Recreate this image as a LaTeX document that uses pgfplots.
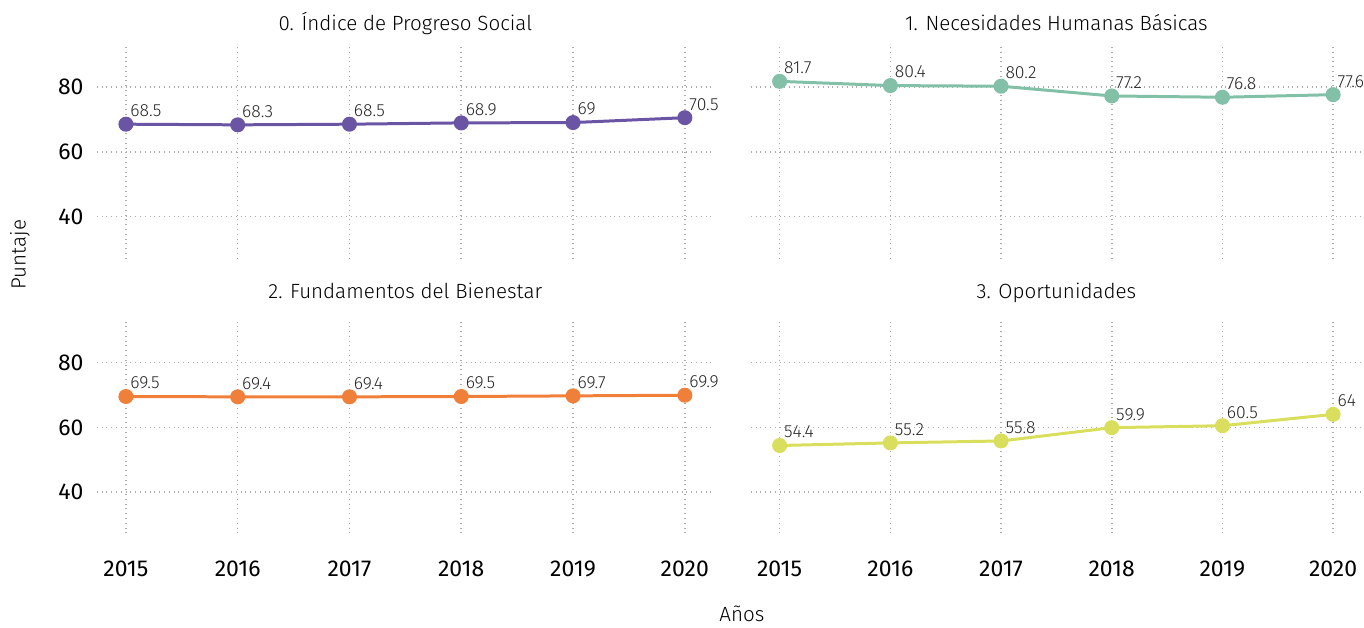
\documentclass[border=0pt]{standalone}
\usepackage{fontspec}
\setmainfont{Fira Sans}
\newfontfamily\lightfont{Fira Sans Light}
\usepackage{pgfplots}
\pgfplotsset{compat=1.18}

\definecolor{cpur}{HTML}{6A55A4}
\definecolor{cgrn}{HTML}{82C0A8}
\definecolor{corg}{HTML}{F07F3A}
\definecolor{cyel}{HTML}{D9DF5C}

\pgfplotsset{
  panel/.style={
    scale only axis,
    width=309pt,
    xmin=2014.74, xmax=2020.26,
    axis line style={draw=none},
    tick style={draw=none},
    xtick={2015,...,2020},
    ytick={40,60,80},
    grid=major,
    grid style={dotted, gray!65, line width=0.8pt},
    /pgf/number format/assume math mode=true,
    xticklabel style={/pgf/number format/1000 sep={}, font=\fontsize{11.5}{11.5}\selectfont, anchor=base, yshift=-21.5pt},
    yticklabel style={font=\fontsize{11.5}{11.5}\selectfont, anchor=east, inner sep=0pt, xshift=-6.5pt},
    every axis title shift=0pt,
    title style={font=\lightfont\fontsize{10.3}{10.3}\selectfont, at={(0.5,1)}, anchor=base},
    nodes near coords,
    every node near coord/.append style={font=\lightfont\fontsize{8.8}{8.8}\selectfont, anchor=base west, inner sep=0pt,
      xshift=1.5pt, yshift=3.8pt, text=black!85,
      /pgf/number format/fixed, /pgf/number format/precision=1},
  },
  toprow/.style={height=106pt, ymin=27.08, ymax=92.31, xticklabels={}, title style={yshift=8pt}},
  botrow/.style={height=106.5pt, ymin=27.38, ymax=92.92, title style={yshift=11pt}},
  ser/.style={line width=1.5pt, color=#1, mark=*, mark size=3pt, mark options={fill=#1, draw=#1}},
}

\begin{document}
\begin{tikzpicture}
\begin{axis}[panel, toprow, at={(48.5pt,-129.5pt)}, title={0. Índice de Progreso Social}]
\addplot[ser=cpur] coordinates {(2015,68.5) (2016,68.3) (2017,68.5) (2018,68.9) (2019,69) (2020,70.5)};
\end{axis}
\begin{axis}[panel, toprow, width=306pt, at={(376pt,-129.5pt)}, yticklabels={}, title={1. Necesidades Humanas Básicas}]
\addplot[ser=cgrn] coordinates {(2015,81.7) (2016,80.4) (2017,80.2) (2018,77.2) (2019,76.8) (2020,77.6)};
\end{axis}
\begin{axis}[panel, botrow, at={(48.5pt,-267pt)}, title={2. Fundamentos del Bienestar}]
\addplot[ser=corg] coordinates {(2015,69.5) (2016,69.4) (2017,69.4) (2018,69.5) (2019,69.7) (2020,69.9)};
\end{axis}
\begin{axis}[panel, botrow, width=306pt, at={(376pt,-267pt)}, yticklabels={}, title={3. Oportunidades}]
\addplot[ser=cyel] coordinates {(2015,54.4) (2016,55.2) (2017,55.8) (2018,59.9) (2019,60.5) (2020,64)};
\end{axis}
\node[rotate=90, font=\lightfont\fontsize{10.3}{10.3}\selectfont] at (10pt,-127.5pt) {Puntaje};
\node[anchor=base, font=\lightfont\fontsize{10.3}{10.3}\selectfont] at (371.5pt,-311pt) {Años};
\useasboundingbox (0,0) rectangle (682pt,-312pt);
\end{tikzpicture}
\end{document}
